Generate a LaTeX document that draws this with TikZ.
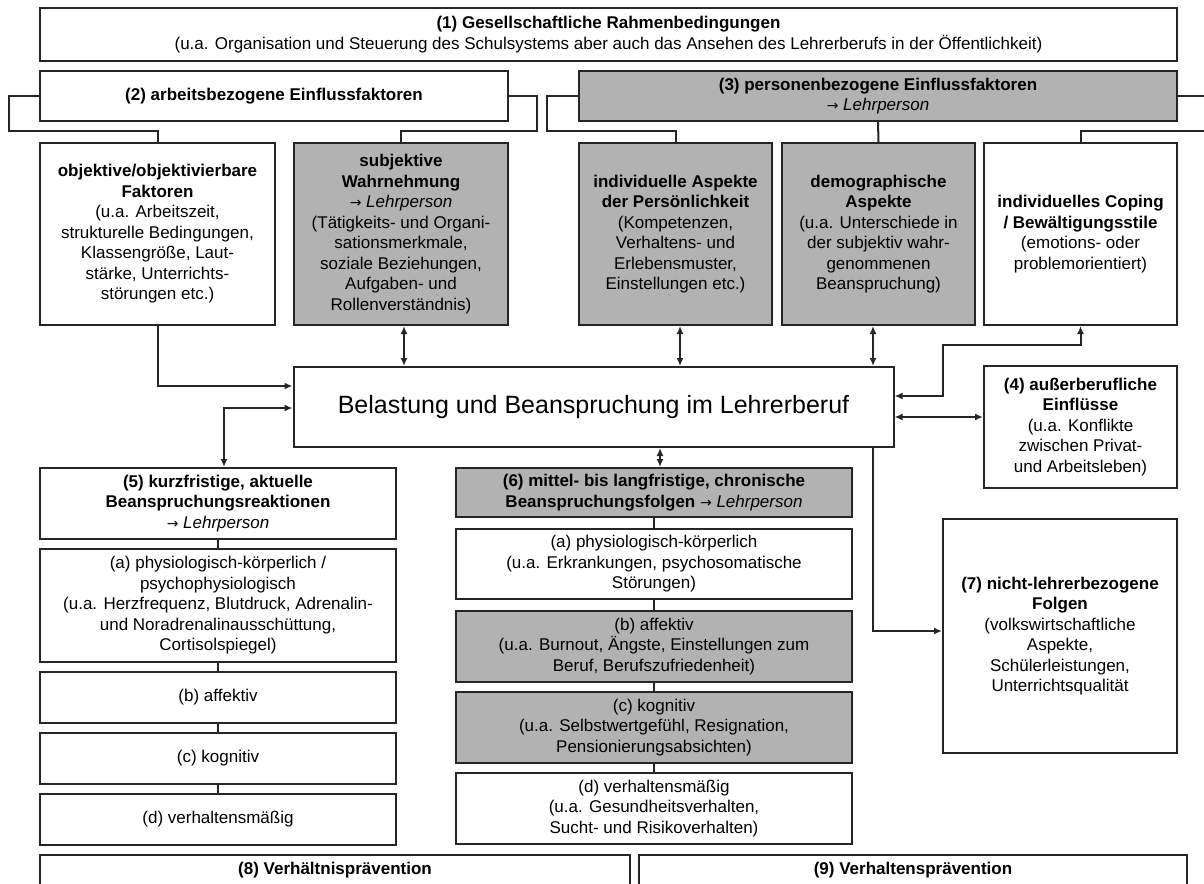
\documentclass[tikz,border=0pt]{standalone}
\usepackage{fontspec}
\setmainfont{Liberation Sans}
\newfontfamily\arrowfont{DejaVu Sans}
\usetikzlibrary{arrows.meta}

\begin{document}
\begin{tikzpicture}[x=1pt,y=-1pt]
	\tikzstyle{Box} = [draw=black!85,line width=2pt,fill=white,align=center,inner sep=2pt,font=\fontsize{17}{20.5}\selectfont]
	\tikzstyle{Grey} = [Box,fill=black!30]
	\tikzstyle{Line} = [draw=black!85,line width=2pt]
	\tikzstyle{Arrow} = [Line,-{Latex[length=8pt,width=7pt]}]
	\tikzstyle{BothArrow} = [Line,{Latex[length=8pt,width=7pt]}-{Latex[length=8pt,width=7pt]}]
	\useasboundingbox (0,0) rectangle (1204,883);
	% top row
	\node[Box,minimum width=1137pt,minimum height=53pt] (Rahmen) at (608.5,34.5)
	{\textbf{(1) Gesellschaftliche Rahmenbedingungen}\\(u.a. Organisation und Steuerung des Schulsystems aber auch das Ansehen des Lehrerberufs in der Öffentlichkeit)};
	\node[Box,minimum width=468pt,minimum height=50pt] (Arbeit) at (274,96)
	{\textbf{(2) arbeitsbezogene Einflussfaktoren}};
	\node[Grey,minimum width=598pt,minimum height=50pt] (Person) at (878,96)
	{\textbf{(3) personenbezogene Einflussfaktoren}\\{\arrowfont\fontsize{14}{20.5}\selectfont →} \textit{Lehrperson}};
	% factors
	\node[Box,minimum width=235pt,minimum height=182pt] (Objektiv) at (157.5,234)
	{\textbf{objektive/objektivierbare}\\\textbf{Faktoren}\\(u.a. Arbeitszeit,\\strukturelle Bedingungen,\\Klassengröße, Laut-\\stärke, Unterrichts-\\störungen etc.)};
	\node[Grey,minimum width=214pt,minimum height=182pt] (Subjektiv) at (401,234)
	{\textbf{subjektive}\\\textbf{Wahrnehmung}\\{\arrowfont\fontsize{14}{20.5}\selectfont →} \textit{Lehrperson}\\(Tätigkeits- und Organi-\\sationsmerkmale,\\soziale Beziehungen,\\Aufgaben- und\\Rollenverständnis)};
	\node[Grey,minimum width=193pt,minimum height=182pt] (Individuell) at (675.5,234)
	{\textbf{individuelle Aspekte}\\\textbf{der Persönlichkeit}\\(Kompetenzen,\\Verhaltens- und\\Erlebensmuster,\\Einstellungen etc.)};
	\node[Grey,minimum width=193pt,minimum height=182pt] (Demographisch) at (878.5,234)
	{\textbf{demographische}\\\textbf{Aspekte}\\(u.a. Unterschiede in\\der subjektiv wahr-\\genommenen\\Beanspruchung)};
	\node[Box,minimum width=193pt,minimum height=182pt] (Coping) at (1080.5,234)
	{\textbf{individuelles Coping}\\\textbf{/ Bewältigungsstile}\\(emotions- oder\\problemorientiert)};
	% centre
	\node[Box,minimum width=600pt,minimum height=80pt,font=\fontsize{25}{30}\selectfont] (Belastung) at (593.5,407)
	{Belastung und Beanspruchung im Lehrerberuf};
	\node[Box,minimum width=193pt,minimum height=122pt] (Aussen) at (1080.5,427)
	{\textbf{(4) außerberufliche}\\\textbf{Einflüsse}\\(u.a. Konflikte\\zwischen Privat-\\und Arbeitsleben)};
	% (5) short-term reactions
	\node[Box,minimum width=356pt,minimum height=71pt] (Kurz) at (218,503.5)
	{\textbf{(5) kurzfristige, aktuelle}\\\textbf{Beanspruchungsreaktionen}\\{\arrowfont\fontsize{14}{20.5}\selectfont →} \textit{Lehrperson}};
	\node[Box,minimum width=356pt,minimum height=113pt] (KurzA) at (218,605.5)
	{(a) physiologisch-körperlich /\\psychophysiologisch\\(u.a. Herzfrequenz, Blutdruck, Adrenalin-\\und Noradrenalinausschüttung,\\Cortisolspiegel)};
	\node[Box,minimum width=356pt,minimum height=51pt] (KurzB) at (218,697.5) {(b) affektiv};
	\node[Box,minimum width=356pt,minimum height=51pt] (KurzC) at (218,758.5) {(c) kognitiv};
	\node[Box,minimum width=356pt,minimum height=51pt] (KurzD) at (218,819.5) {(d) verhaltensmäßig};
	% (6) long-term consequences
	\node[Grey,minimum width=396pt,minimum height=49pt] (Chronisch) at (654,492.5)
	{\textbf{(6) mittel- bis langfristige, chronische}\\\textbf{Beanspruchungsfolgen} {\arrowfont\fontsize{14}{20.5}\selectfont →} \textit{Lehrperson}};
	\node[Box,minimum width=396pt,minimum height=70pt] (ChronA) at (654,564)
	{(a) physiologisch-körperlich\\(u.a. Erkrankungen, psychosomatische\\Störungen)};
	\node[Grey,minimum width=396pt,minimum height=71pt] (ChronB) at (654,646.5)
	{(b) affektiv\\(u.a. Burnout, Ängste, Einstellungen zum\\Beruf, Berufszufriedenheit)};
	\node[Grey,minimum width=396pt,minimum height=71pt] (ChronC) at (654,727.5)
	{(c) kognitiv\\(u.a. Selbstwertgefühl, Resignation,\\Pensionierungsabsichten)};
	\node[Box,minimum width=396pt,minimum height=71pt] (ChronD) at (654,808.5)
	{(d) verhaltensmäßig\\(u.a. Gesundheitsverhalten,\\Sucht- und Risikoverhalten)};
	% (7)
	\node[Box,minimum width=234pt,minimum height=234pt] (Folgen) at (1060,636)
	{\textbf{(7) nicht-lehrerbezogene}\\\textbf{Folgen}\\(volkswirtschaftliche\\Aspekte,\\Schülerleistungen,\\Unterrichtsqualität};
	% prevention
	\node[Box,minimum width=590pt,minimum height=30pt] (Verhaeltnis) at (335,870)
	{\textbf{(8) Verhältnisprävention}};
	\node[Box,minimum width=548pt,minimum height=30pt] (Verhalten) at (913,870)
	{\textbf{(9) Verhaltensprävention}};
	
	% brackets
	\draw[Line] (Arbeit.west) -- (9,96) -- (9,131) -| (Objektiv.north);
	\draw[Line] (Arbeit.east) -- (537,96) -- (537,131) -| (Subjektiv.north);
	\draw[Line] (Person.west) -- (547,96) -- (547,131) -| (Individuell.north);
	\draw[Line] (Person.south) -- (Demographisch.north);
	\draw[Line] (Person.east) -- (1220,96) -- (1220,131) -| (Coping.north);
	% links to the centre
	\coordinate (SubjLink) at (404,0);
	\coordinate (IndLink) at (680,0);
	\coordinate (DemoLink) at (873,0);
	\coordinate (ChronLink) at (660,0);
	\coordinate (CopeBend) at (943,345);
	\coordinate (AussenLink) at (0,417);
	\draw[Arrow] (Objektiv.south) |- ([yshift=21pt]Belastung.west);
	\draw[BothArrow] ([xshift=6pt]Kurz.north) |- ([yshift=-1pt]Belastung.west);
	\draw[BothArrow] (SubjLink |- Subjektiv.south) -- (SubjLink |- Belastung.north);
	\draw[BothArrow] (IndLink |- Individuell.south) -- (IndLink |- Belastung.north);
	\draw[BothArrow] (DemoLink |- Demographisch.south) -- (DemoLink |- Belastung.north);
	\draw[BothArrow] (Coping.south) |- (CopeBend) |- ([yshift=11pt]Belastung.east);
	\draw[BothArrow] (Belastung.east |- AussenLink) -- (Aussen.west |- AussenLink);
	\draw[BothArrow] (ChronLink |- Belastung.south) -- (ChronLink |- Chronisch.north);
	\draw[Arrow] (DemoLink |- Belastung.south) |- ([yshift=5pt]Folgen.west);
	% chains
	\foreach \a/\b in {Kurz/KurzA,KurzA/KurzB,KurzB/KurzC,KurzC/KurzD,Chronisch/ChronA,ChronA/ChronB,ChronB/ChronC,ChronC/ChronD}
	\draw[Line] (\a.south) -- (\b.north);
\end{tikzpicture}
\end{document}
